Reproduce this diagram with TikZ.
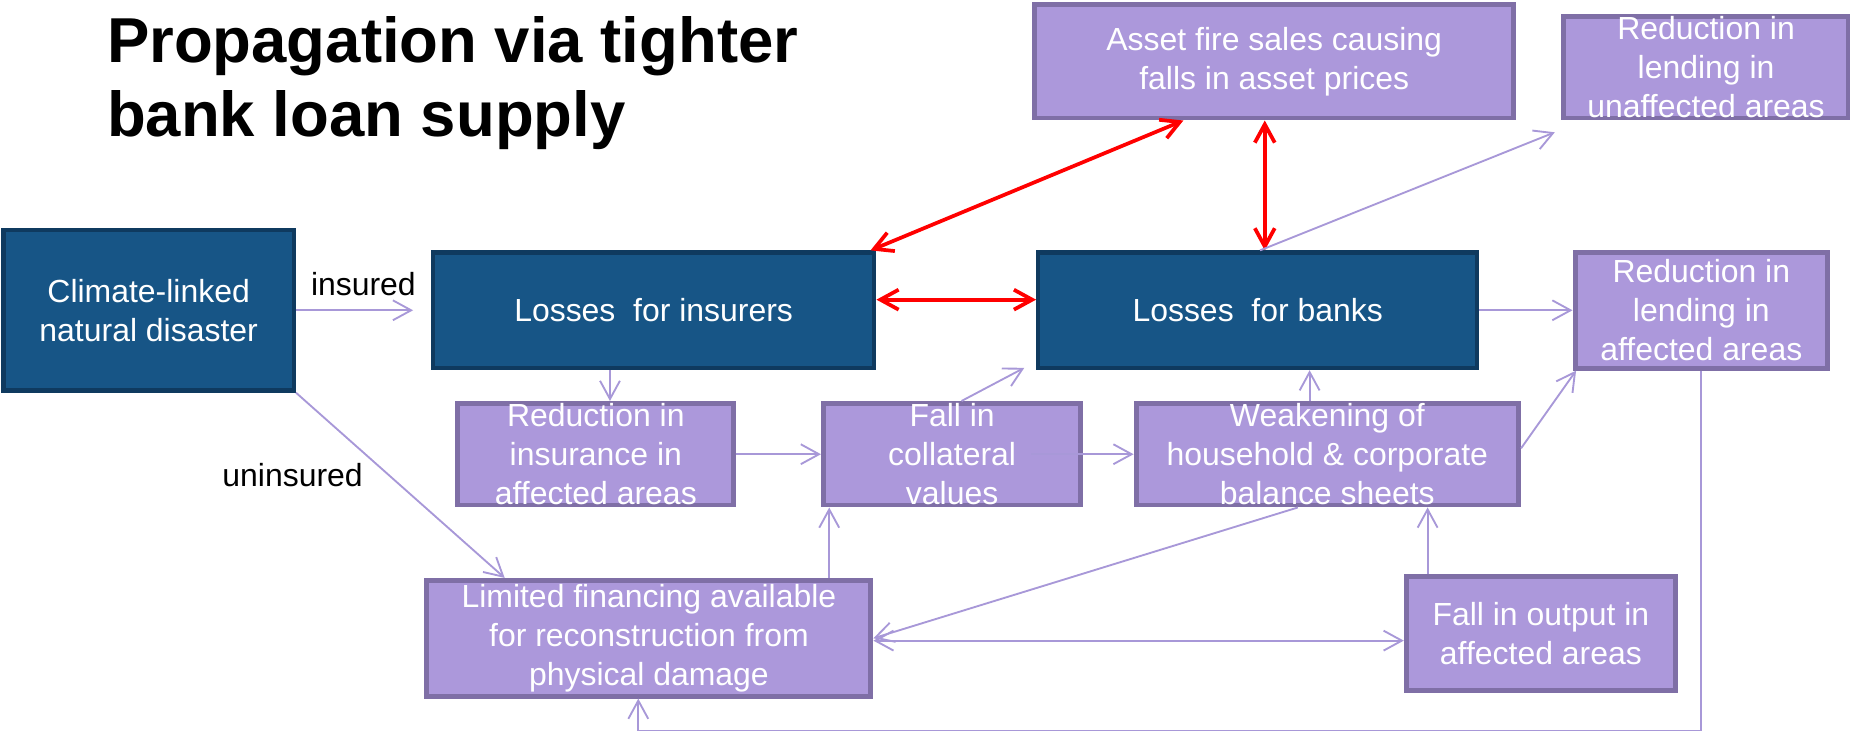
\documentclass[tikz,border=0pt]{standalone}
\usepackage{fontspec}
\setmainfont{Liberation Sans}
\usetikzlibrary{arrows.meta}

\definecolor{darkbox}{HTML}{175586}
\definecolor{darkedge}{HTML}{0F3A5F}
\definecolor{lilac}{HTML}{AC98DB}
\definecolor{lilacedge}{HTML}{7F6FA6}
\definecolor{lilacline}{HTML}{A898D8}

\begin{document}
\begin{tikzpicture}[x=0.01cm,y=-0.01cm,
    >={Straight Barb[length=4.4pt,width=4.8pt]},
    boxtext/.style={align=center,inner sep=0pt,text=white,font=\fontsize{7.7}{9.4}\selectfont},
    darknode/.style={boxtext,draw=darkedge,fill=darkbox,line width=1pt},
    lilacnode/.style={boxtext,draw=lilacedge,fill=lilac,line width=1.2pt},
    ln/.style={draw=lilacline,line width=0.45pt,->},
    redln/.style={draw=red,line width=0.9pt,<->},
    lbl/.style={inner sep=0pt,font=\fontsize{7.7}{9.4}\selectfont}]
      \useasboundingbox (0,0) rectangle (1568,619);

      \node[anchor=north west,align=left,inner sep=0pt,font=\fontsize{15.3}{17.9}\selectfont\bfseries]
        (title) at (90,13) {Propagation via tighter\\bank loan supply};

      \node[darknode,minimum width=2.46cm,minimum height=1.36cm] (clim) at (126,263) {Climate-linked\\natural disaster};
      \node[darknode,minimum width=3.74cm,minimum height=0.98cm] (insr) at (554,263) {Losses\ \ for insurers};
      \node[darknode,minimum width=3.72cm,minimum height=0.98cm] (bank) at (1066,263) {Losses\ \ for banks};

      \node[lilacnode,minimum width=4.06cm,minimum height=0.96cm] (fire) at (1080,52) {Asset fire sales causing\\falls in asset prices};
      \node[lilacnode,minimum width=2.42cm,minimum height=0.86cm] (unaff) at (1446,57) {Reduction in\\lending in\\unaffected areas};
      \node[lilacnode,minimum width=2.14cm,minimum height=0.98cm] (lendA) at (1442,263) {Reduction in\\lending in\\affected areas};
      \node[lilacnode,minimum width=2.34cm,minimum height=0.86cm] (rins) at (505,385) {Reduction in\\insurance in\\affected areas};
      \node[lilacnode,minimum width=2.18cm,minimum height=0.86cm] (coll) at (807,385) {Fall in\\collateral\\values};
      \node[lilacnode,minimum width=3.24cm,minimum height=0.86cm] (weak) at (1125,385) {Weakening of\\household \& corporate\\balance sheets};
      \node[lilacnode,minimum width=3.76cm,minimum height=0.98cm] (limf) at (550,541) {Limited financing available\\for reconstruction from\\physical damage};
      \node[lilacnode,minimum width=2.28cm,minimum height=0.97cm] (outp) at (1306,537) {Fall in output in\\affected areas};

      \draw[ln,shorten >=0.15cm] (clim.east) -- (insr.west);
      \node[lbl] (ins) at (308,241) {insured};
      \draw[ln] (clim.south east) -- ([shift={(68,0)}]limf.north west);
      \node[lbl] (unins) at (248,403) {uninsured};

      \draw[redln] ([shift={(0,-9)}]insr.east) -- ([shift={(0,-9)}]bank.west);
      \draw[redln] ([shift={(-5,0)}]insr.north east) -- ([shift={(-77,0)}]fire.south);
      \draw[redln] ([shift={(-8,0)}]fire.south) -- ([shift={(-8,0)}]fire.south |- bank.north);

      \draw[ln] ([shift={(2,0)}]bank.north) -- ([shift={(-5,10)}]unaff.south west);
      \draw[ln] (bank.east) -- (lendA.west);
      \draw[ln] ([shift={(12,0)}]rins.north |- insr.south) -- ([shift={(12,0)}]rins.north);
      \draw[ln] (rins.east) -- (coll.west);
      \draw[ln] ([shift={(8,0)}]coll.north) -- ([shift={(-10,-2)}]bank.south west);
      \draw[ln] ([shift={(-44,0)}]coll.east) -- (weak.west);
      \draw[ln] ([shift={(-15,0)}]weak.north) -- ([shift={(-15,0)}]weak.north |- bank.south);
      \draw[ln] ([shift={(0,-5)}]weak.east) -- ([shift={(3,0)}]lendA.south west);
      \draw[ln] ([shift={(-25,0)}]weak.south) -- (limf.east);
      \draw[ln,<->] ([shift={(0,2)}]limf.east) -- ([shift={(0,2)}]limf.east -| outp.west);
      \draw[ln] ([shift={(-96,0)}]outp.north) -- ([shift={(-96,0)}]outp.north |- weak.south);
      \draw[ln] ([shift={(7,0)}]coll.south west |- limf.north) -- ([shift={(7,0)}]coll.south west);
      \draw[ln] (lendA.south) |- ([shift={(-9,27)}]limf.south) -- ([shift={(-9,0)}]limf.south);
    \end{tikzpicture}
\end{document}
